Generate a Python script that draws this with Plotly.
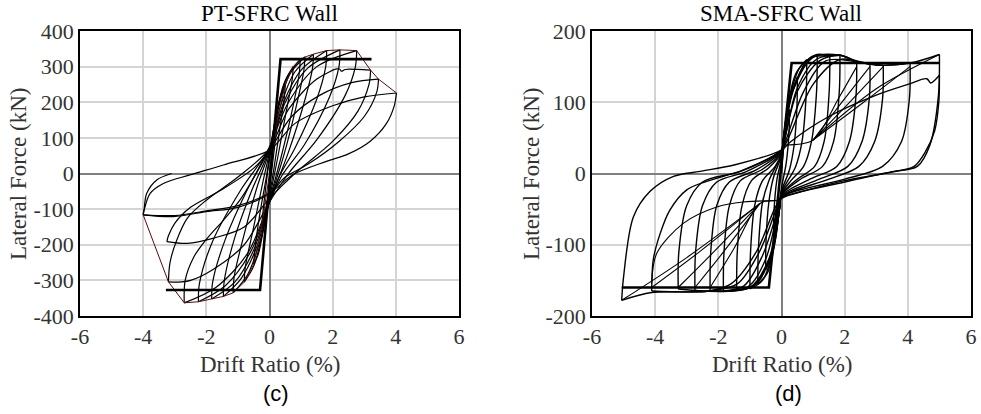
import plotly.graph_objects as go

# ---------------- PT-SFRC wall (left) ----------------
# loading branches toward each positive peak (drift %, kN)
pt_up = [
    [(0, 0), (0.08, 60), (0.17, 115), (0.25, 150)],
    [(-0.25, -150), (-0.22, -120), (-0.1, -25), (0, 40), (0.2, 150), (0.35, 215), (0.5, 250)],
    [(-0.5, -255), (-0.47, -220), (-0.3, -110), (-0.1, -10), (0, 50), (0.2, 160), (0.45, 250), (0.75, 300)],
    [(-0.8, -305), (-0.77, -265), (-0.5, -150), (-0.2, -20), (0, 60), (0.25, 180), (0.55, 270), (0.97, 320)],
    [(-1.15, -335), (-1.12, -290), (-0.8, -170), (-0.4, -40), (0, 65), (0.3, 190), (0.65, 280), (1.12, 327)],
    [(-1.46, -345), (-1.43, -300), (-1.1, -180), (-0.55, -45), (0, 68), (0.35, 190), (0.8, 285), (1.39, 335)],
    [(-1.83, -352), (-1.8, -305), (-1.4, -185), (-0.7, -45), (0, 70), (0.45, 200), (1.0, 290), (1.81, 345)],
    [(-2.25, -360), (-2.22, -310), (-1.8, -190), (-0.9, -45), (0, 72), (0.5, 200), (1.2, 295), (2.23, 347)],
    [(-2.7, -363), (-2.67, -300), (-2.4, -235), (-2.0, -185), (-1.45, -130), (-0.9, -70), (0, 75), (0.6, 200), (1.5, 300), (2.76, 345)],
    [(-3.2, -304), (-3.15, -250), (-2.95, -190), (-2.6, -125), (-2.0, -75), (-1.0, -10), (0, 70), (0.6, 180), (1.5, 265), (2.2, 294), (2.28, 287), (2.4, 292), (2.8, 292), (3.2, 290)],
    [(-3.25, -191), (-3.2, -175), (-3.0, -140), (-2.5, -95), (-1.5, -45), (-0.5, 15), (0, 65), (0.7, 160), (1.6, 220), (2.6, 255), (3.45, 265)],
    [(-4.0, -116), (-3.97, -103), (-3.78, -56), (-3.36, -28), (-2.52, -4), (-1.46, 24), (0, 66), (0.8, 140), (2.0, 190), (3.0, 215), (4.02, 226)],
]
# unloading / reverse loading branches toward each negative peak
pt_down = [
    [(0.25, 150), (0.22, 120), (0.1, 30), (0, -40), (-0.1, -90), (-0.25, -150)],
    [(0.5, 250), (0.47, 215), (0.3, 110), (0.15, 20), (0, -60), (-0.2, -160), (-0.35, -225), (-0.5, -255)],
    [(0.75, 300), (0.72, 265), (0.5, 160), (0.25, 40), (0, -70), (-0.2, -160), (-0.5, -260), (-0.8, -305)],
    [(0.97, 320), (0.94, 280), (0.7, 170), (0.35, 40), (0, -75), (-0.3, -190), (-0.7, -285), (-1.15, -335)],
    [(1.12, 327), (1.09, 290), (0.85, 190), (0.45, 50), (0, -78), (-0.4, -205), (-0.9, -295), (-1.46, -345)],
    [(1.39, 335), (1.36, 295), (1.1, 200), (0.6, 60), (0, -80), (-0.5, -215), (-1.1, -305), (-1.83, -352)],
    [(1.81, 345), (1.78, 300), (1.5, 210), (0.8, 70), (0.3, -10), (0, -80), (-0.6, -220), (-1.4, -315), (-2.25, -360)],
    [(2.23, 347), (2.2, 300), (1.9, 215), (1.1, 80), (0.4, -5), (0, -80), (-0.7, -225), (-1.7, -320), (-2.7, -363)],
    [(2.76, 345), (2.72, 300), (2.4, 220), (1.5, 95), (0.6, 0), (0, -80), (-0.8, -200), (-1.8, -270), (-2.5, -300), (-2.9, -305), (-3.2, -304)],
    [(3.2, 290), (3.15, 250), (2.8, 175), (2.0, 90), (0.8, 0), (0, -70), (-0.8, -150), (-1.8, -182), (-2.6, -196), (-3.25, -191)],
    [(3.45, 265), (3.4, 230), (3.0, 160), (2.2, 90), (1.2, 25), (0.5, -10), (0, -56), (-1.0, -95), (-2.0, -107), (-3.04, -121), (-4.0, -116)],
    [(4.02, 226), (3.95, 190), (3.7, 140), (3.18, 90), (2.5, 55), (1.8, 34), (0.75, -3), (0, -55), (-1.0, -90), (-2.0, -105), (-3.0, -118), (-4.0, -116)],
    [(-4.0, -116), (-3.97, -100), (-3.89, -56), (-3.57, -18), (-3.1, 0)],
]
pt_env_x = [-4.0, -3.2, -2.7, -2.25, -1.83, -1.46, -1.15, -0.8, -0.5, -0.25, 0, 0.25, 0.5, 0.75, 0.97, 1.12, 1.39, 1.81, 2.23, 2.76, 3.2, 3.45, 4.02]
pt_env_y = [-116, -304, -363, -360, -352, -345, -335, -305, -255, -150, 0, 150, 250, 300, 320, 327, 335, 345, 347, 345, 290, 265, 226]
pt_bil_x = [-3.28, -0.3, 0.35, 3.23]
pt_bil_y = [-327, -327, 321, 321]

# ---------------- SMA-SFRC wall (right) ----------------
sma_up = [
    [(0, 0), (0.1, 50), (0.25, 90)],
    [(-0.25, -85), (-0.24, -55), (-0.15, -10), (0, 22), (0.15, 75), (0.3, 110), (0.5, 135)],
    [(-0.5, -135), (-0.49, -95), (-0.4, -40), (-0.25, -5), (0, 25), (0.05, 45), (0.2, 95), (0.45, 140), (0.8, 160)],
    [(-0.75, -155), (-0.73, -105), (-0.6, -40), (-0.4, -10), (0, 27), (0.05, 45), (0.25, 105), (0.6, 150), (1.13, 167)],
    [(-1.0, -162), (-0.98, -110), (-0.85, -45), (-0.6, -10), (-0.2, 10), (0, 28), (0.05, 45), (0.3, 110), (0.8, 158), (1.13, 167), (1.53, 165)],
    [(-1.42, -163), (-1.4, -110), (-1.25, -45), (-0.95, -10), (-0.4, 8), (0, 29), (0.05, 45), (0.35, 115), (0.9, 162), (1.53, 165), (1.85, 166)],
    [(-1.84, -165), (-1.82, -110), (-1.65, -45), (-1.3, -10), (-0.6, 6), (0, 30), (0.05, 45), (0.4, 120), (1.0, 163), (1.85, 166), (2.38, 157)],
    [(-2.26, -165), (-2.24, -110), (-2.05, -45), (-1.65, -12), (-0.8, 5), (0, 31), (0.1, 48), (0.5, 120), (1.1, 160), (1.85, 166), (2.38, 157), (2.8, 153)],
    [(-2.74, -164), (-2.72, -110), (-2.5, -45), (-2.05, -12), (-1.1, 3), (0, 32), (0.1, 48), (0.5, 115), (1.2, 158), (1.85, 166), (2.38, 157), (3.22, 152)],
    [(-3.27, -162), (-3.25, -110), (-3.0, -45), (-2.5, -12), (-1.3, 3), (0, 33), (0.15, 48), (0.7, 115), (1.4, 158), (2.38, 157), (3.22, 152), (4.07, 155)],
    [(-4.11, -165), (-4.06, -121), (-3.84, -84), (-3.53, -51), (-3.0, -23), (-2.37, -11), (-1.2, 5), (0, 33), (0.2, 48), (1.0, 125), (1.85, 160), (3.0, 152), (4.07, 155), (5.0, 167)],
    [(-5.06, -178), (-5.0, -145), (-4.69, -61), (-4.16, -25), (-3.42, -4), (-2.58, 3), (-1.5, 12), (0, 33), (0.3, 45), (1.5, 80), (3.0, 110), (4.0, 125), (4.6, 133), (4.72, 127), (4.85, 131), (5.0, 138)],
]
sma_down = [
    [(0.25, 90), (0.24, 60), (0.15, 15), (0, -20), (-0.1, -50), (-0.25, -85)],
    [(0.5, 135), (0.49, 95), (0.4, 40), (0.25, 5), (0, -25), (-0.05, -45), (-0.2, -90), (-0.35, -120), (-0.5, -135)],
    [(0.8, 160), (0.78, 110), (0.65, 45), (0.45, 10), (0, -27), (-0.05, -45), (-0.2, -95), (-0.45, -140), (-0.75, -155)],
    [(1.13, 167), (1.11, 115), (0.95, 45), (0.7, 10), (0.3, -10), (0, -28), (-0.05, -45), (-0.25, -105), (-0.6, -150), (-1.0, -162)],
    [(1.53, 165), (1.51, 115), (1.35, 45), (1.05, 10), (0.5, -8), (0, -29), (-0.05, -45), (-0.3, -110), (-0.8, -155), (-1.42, -163)],
    [(1.85, 166), (1.83, 115), (1.65, 45), (1.3, 10), (0.6, -8), (0, -30), (-0.05, -45), (-0.35, -115), (-0.9, -158), (-1.84, -165)],
    [(2.38, 157), (2.36, 110), (2.15, 45), (1.75, 10), (0.9, -8), (0, -31), (-0.05, -45), (-0.4, -120), (-1.0, -160), (-2.26, -165)],
    [(2.8, 153), (2.78, 105), (2.55, 45), (2.1, 10), (1.2, -8), (0, -32), (-0.1, -48), (-0.5, -120), (-1.1, -160), (-2.74, -164)],
    [(3.22, 152), (3.2, 105), (2.95, 45), (2.45, 10), (1.5, -8), (0, -33), (-0.1, -48), (-0.6, -115), (-1.2, -158), (-2.0, -165), (-3.27, -162)],
    [(4.07, 155), (4.05, 105), (3.8, 45), (3.2, 10), (2.0, -8), (0, -33), (-0.15, -48), (-0.7, -110), (-1.4, -155), (-2.3, -165), (-4.11, -165)],
    [(5.0, 167), (4.97, 110), (4.7, 40), (4.3, 10), (3.43, 2), (2.0, -12), (0, -35), (-0.2, -48), (-0.8, -110), (-1.6, -155), (-2.3, -165), (-4.11, -167), (-5.06, -178)],
    [(5.0, 138), (4.98, 100), (4.85, 60), (4.55, 30), (4.2, 10), (3.5, 2), (2.0, -10), (0, -33)],
]
# second-cycle reloading curves
sma_fan = [
    [(0.1, 40), (1.0, 47), (1.8, 105), (2.38, 150)],
    [(1.0, 47), (2.0, 105), (2.8, 150)],
    [(1.0, 47), (2.2, 102), (3.22, 150)],
    [(1.0, 47), (2.6, 100), (4.07, 150)],
    [(1.0, 47), (3.0, 119), (5.0, 167)],
    [(-0.1, -38), (-0.68, -42), (-1.5, -105), (-2.26, -160)],
    [(-0.68, -42), (-1.8, -108), (-2.74, -160)],
    [(-0.68, -42), (-2.1, -108), (-3.27, -160)],
    [(-0.68, -42), (-2.6, -110), (-4.11, -160)],
    [(-0.68, -42), (-3.0, -118), (-5.06, -178)],
    [(-0.2, -38), (-1.21, -40), (-2.05, -47), (-3.11, -70), (-3.95, -112), (-4.11, -154)],
]
sma_bil_x = [-5.06, -0.4, 0.32, 5.0]
sma_bil_y = [-160, -160, 155, 155]

x_ticks = [-6, -4, -2, 0, 2, 4, 6]
pt_y_ticks = [-400, -300, -200, -100, 0, 100, 200, 300, 400]
sma_y_ticks = [-200, -100, 0, 100, 200]

fig = go.Figure()

def add_branches(branches, xa, ya, width=1.1):
    for br in branches:
        fig.add_trace(go.Scatter(
            x=[p[0] for p in br], y=[p[1] for p in br], mode="lines",
            line=dict(color="black", width=width, shape="spline", smoothing=0.9),
            xaxis=xa, yaxis=ya, showlegend=False, hoverinfo="skip"))

add_branches(pt_up, "x", "y", 1.2)
add_branches(pt_down, "x", "y", 1.2)
fig.add_trace(go.Scatter(x=pt_env_x, y=pt_env_y, mode="lines",
                         line=dict(color="#5a0a0a", width=1), xaxis="x", yaxis="y",
                         showlegend=False, hoverinfo="skip"))
fig.add_trace(go.Scatter(x=pt_bil_x, y=pt_bil_y, mode="lines",
                         line=dict(color="black", width=2.6), xaxis="x", yaxis="y",
                         showlegend=False, hoverinfo="skip"))

add_branches(sma_up, "x2", "y2", 1.4)
add_branches(sma_down, "x2", "y2", 1.4)
add_branches(sma_fan, "x2", "y2", 1.1)
fig.add_trace(go.Scatter(x=sma_bil_x, y=sma_bil_y, mode="lines",
                         line=dict(color="black", width=2.6), xaxis="x2", yaxis="y2",
                         showlegend=False, hoverinfo="skip"))

serif = '"Liberation Serif", "Times New Roman", Times, serif'
tickfont = dict(family=serif, size=22, color="#333333")

def hy(vals):
    return [str(v).replace("−", "-") for v in vals]

common_x = dict(range=[-6, 6], tickvals=x_ticks, ticktext=hy(x_ticks), showgrid=True,
                gridcolor="#d4d4d4", gridwidth=1.5, zeroline=True, zerolinecolor="#7f7f7f",
                zerolinewidth=1.5, showline=True, linecolor="black", linewidth=1.5,
                mirror=True, ticks="", tickfont=tickfont, fixedrange=True, automargin=False)
common_y = dict(showgrid=True, gridcolor="#d4d4d4", gridwidth=1.5, zeroline=True,
                zerolinecolor="#7f7f7f", zerolinewidth=1.5, showline=True,
                linecolor="black", linewidth=1.5, mirror=True, ticks="",
                tickfont=tickfont, fixedrange=True, automargin=False)

fig.update_layout(
    width=981, height=414, margin=dict(l=0, r=0, t=0, b=0, autoexpand=False),
    paper_bgcolor="white", plot_bgcolor="white",
    xaxis=dict(domain=[80 / 981, 459 / 981], anchor="y", **common_x),
    yaxis=dict(domain=[1 - 316 / 414, 1 - 31 / 414], anchor="x", range=[-400, 400],
               tickvals=pt_y_ticks, ticktext=hy(pt_y_ticks), **common_y),
    xaxis2=dict(domain=[592 / 981, 971 / 981], anchor="y2", **common_x),
    yaxis2=dict(domain=[1 - 316 / 414, 1 - 31 / 414], anchor="x2", range=[-200, 200],
                tickvals=sma_y_ticks, ticktext=hy(sma_y_ticks), **common_y),
)

ann = []
def txt(x, y, s, size=23, family=serif, color="#222222", angle=0):
    ann.append(dict(x=x / 981, y=1 - y / 414, xref="paper", yref="paper", text=s,
                    showarrow=False, textangle=angle, xanchor="center", yanchor="middle",
                    font=dict(family=family, size=size, color=color)))

txt(269, 13, "PT-SFRC Wall", color="black")
txt(781, 13, "SMA-SFRC Wall", color="black")
txt(270, 364, "Drift Ratio (%)", color="#333333")
txt(782, 364, "Drift Ratio (%)", color="#333333")
txt(18, 174, "Lateral Force (kN)", color="#333333", angle=-90)
txt(531, 174, "Lateral Force (kN)", color="#333333", angle=-90)
txt(276, 393, "(c)", size=22, family='"Liberation Sans", Arial, sans-serif', color="black")
txt(788, 393, "(d)", size=22, family='"Liberation Sans", Arial, sans-serif', color="black")
fig.update_layout(annotations=ann)

fig.write_html("out.html")
